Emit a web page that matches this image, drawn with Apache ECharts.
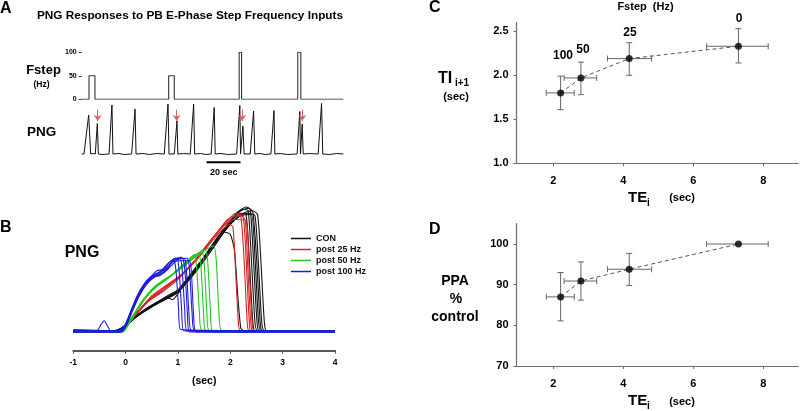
<!DOCTYPE html>
<html><head><meta charset="utf-8">
<script src="https://cdn.jsdelivr.net/npm/echarts@6/dist/echarts.min.js"></script>
<style>html,body{margin:0;padding:0;background:#fff}#c{width:800px;height:411px}</style>
</head><body><div id="c"></div>
<script>
// ---------- Panel A data ----------
const fstepTrace = [[0,0],[4.3,0],[4.3,50],[7.8,50],[7.8,0],[51.2,0],[51.2,50],[54.5,50],[54.5,0],
  [92.7,0],[92.7,100],[94.1,100],[94.1,0],[127.2,0],[127.2,100],[129.0,100],[129.0,0],[154,0]];
const fstepTicks = [0,50,100];
const pngTrace = [[0,0],[1.35,0],[4.1,0.78],[5.3,0],[6.5,0.01],[8.0,0],[9.2,0.61],[9.8,0],[12,-0.01],
  [16.1,0],[17.8,0.98],[18.4,0],[22,0.01],[25,-0.01],[29.4,0],[31.4,0.90],[32.0,0],[36,0.01],[40,-0.01],[44,0.01],
  [48.6,0],[50.8,1.0],[51.4,0],[54.5,0],[56.1,0.66],[56.6,0],[60,0.01],[63.9,0],[65.9,1.0],[66.5,0],[70,0.01],[73,-0.01],
  [76.2,0],[78.0,0.93],[78.6,0],[82,0.01],[86,-0.01],[91.2,0],[93.1,0.97],[93.5,0],[93.9,0],[94.9,0.56],[95.6,0],
  [99.2,0],[101.2,0.86],[101.9,0],[105,0.01],[108,-0.01],[111.4,0],[113.2,0.87],[113.7,0],[117,0.01],[121,-0.01],
  [126.8,0],[128.4,0.85],[128.8,0],[129.8,0.60],[130.4,0],[134,0.01],[139.2,0],[141.2,1.01],[141.9,0],[146,-0.01],[150,0.01],[154,0]];
const arrowX = [9.4, 55.9, 94.5, 129.8];
const arrowTop = 0.89, arrowTip = 0.66;
const scaleBar = [[73.5,-0.166],[93.5,-0.166]];
const scaleLabel = '20 sec';

// ---------- Panel B data ----------
const groupNames = ['CON','post 25 Hz','post 50 Hz','post 100 Hz'];
const conTraces = [
 [[-1,0],[-0.25,0],[-0.08,0.03],[0.15,0.11],[0.4,0.19],[0.7,0.26],[0.9,0.29],[1.15,0.41],[1.45,0.57],[1.75,0.75],[2.0,0.88],[2.2,0.95],[2.3,0.94],[2.36,0.6],[2.43,0.08],[2.48,0],[4,0]],
 [[-1,0.01],[-0.2,0.01],[-0.05,0.04],[0.2,0.13],[0.45,0.2],[0.75,0.27],[0.95,0.31],[1.2,0.44],[1.5,0.6],[1.8,0.78],[2.05,0.91],[2.25,0.98],[2.34,0.97],[2.4,0.6],[2.47,0.08],[2.52,0.01],[4,0.01]],
 [[-1,0],[-0.22,0],[-0.05,0.03],[0.2,0.12],[0.5,0.21],[0.8,0.28],[1.0,0.33],[1.3,0.48],[1.6,0.65],[1.9,0.83],[2.12,0.95],[2.3,1.0],[2.38,0.98],[2.44,0.6],[2.51,0.08],[2.56,0],[4,0]],
 [[-1,0.01],[-0.18,0.01],[0,0.05],[0.25,0.14],[0.55,0.22],[0.82,0.27],[0.9,0.26],[1.1,0.37],[1.4,0.54],[1.7,0.72],[2.0,0.87],[2.2,0.93],[2.4,0.94],[2.47,0.6],[2.54,0.08],[2.59,0.01],[4,0.01]],
 [[-1,0],[-0.2,0],[-0.04,0.04],[0.22,0.13],[0.5,0.21],[0.8,0.29],[1.05,0.35],[1.35,0.5],[1.65,0.68],[1.95,0.86],[2.15,0.96],[2.35,0.99],[2.43,0.96],[2.5,0.6],[2.57,0.08],[2.62,0],[4,0]],
 [[-1,0.01],[-0.24,0.01],[-0.08,0.03],[0.18,0.12],[0.48,0.2],[0.78,0.27],[1.0,0.32],[1.3,0.46],[1.6,0.63],[1.9,0.81],[2.15,0.92],[2.35,0.95],[2.47,0.93],[2.53,0.6],[2.6,0.08],[2.65,0.01],[4,0.01]],
 [[-1,0],[-0.2,0],[-0.05,0.04],[0.2,0.12],[0.5,0.2],[0.8,0.27],[1.05,0.34],[1.35,0.49],[1.65,0.66],[1.95,0.84],[2.2,0.94],[2.42,0.97],[2.52,0.94],[2.58,0.6],[2.65,0.08],[2.7,0],[4,0]],
 [[-1,0.01],[-0.18,0.01],[-0.02,0.04],[0.25,0.14],[0.55,0.22],[0.8,0.28],[0.95,0.3],[1.2,0.43],[1.5,0.6],[1.75,0.75],[1.88,0.8],[2.0,0.78],[2.08,0.65],[2.14,0.3],[2.2,0.03],[2.25,0.01],[4,0.01]]
];
const p25Traces = [
 [[-1,0],[-0.12,0],[0,0.04],[0.2,0.14],[0.45,0.25],[0.7,0.33],[1.0,0.43],[1.3,0.55],[1.6,0.7],[1.85,0.82],[1.98,0.86],[2.05,0.84],[2.1,0.5],[2.15,0.1],[2.2,0],[4,0]],
 [[-1,0.01],[-0.1,0.01],[0.02,0.05],[0.22,0.15],[0.5,0.28],[0.75,0.36],[1.05,0.45],[1.35,0.58],[1.65,0.74],[1.9,0.86],[2.1,0.93],[2.2,0.92],[2.26,0.6],[2.32,0.1],[2.36,0.01],[4,0.01]],
 [[-1,0],[-0.15,0],[-0.02,0.04],[0.18,0.13],[0.45,0.25],[0.7,0.32],[1.0,0.42],[1.3,0.56],[1.6,0.72],[1.9,0.87],[2.1,0.95],[2.24,0.93],[2.3,0.6],[2.36,0.1],[2.4,0],[4,0]],
 [[-1,0.01],[-0.08,0.01],[0.04,0.06],[0.25,0.17],[0.5,0.29],[0.8,0.38],[1.1,0.47],[1.4,0.6],[1.7,0.77],[1.95,0.9],[2.15,0.94],[2.28,0.9],[2.33,0.55],[2.39,0.08],[2.43,0.01],[4,0.01]],
 [[-1,0],[-0.1,0],[0.02,0.05],[0.2,0.15],[0.48,0.27],[0.72,0.34],[1.02,0.44],[1.32,0.57],[1.62,0.73],[1.88,0.85],[2.08,0.9],[2.3,0.89],[2.36,0.5],[2.42,0.06],[2.46,0],[4,0]]
];
const p50Traces = [
 [[-1,0.01],[-0.1,0.01],[0.02,0.05],[0.15,0.13],[0.3,0.23],[0.5,0.33],[0.7,0.4],[0.9,0.46],[1.1,0.53],[1.25,0.6],[1.32,0.62],[1.36,0.5],[1.41,0.15],[1.46,0.01],[4,0.01]],
 [[-1,0],[-0.08,0],[0.04,0.06],[0.18,0.15],[0.35,0.26],[0.55,0.36],[0.75,0.41],[0.95,0.48],[1.15,0.56],[1.3,0.61],[1.4,0.63],[1.44,0.52],[1.49,0.15],[1.54,0],[4,0]],
 [[-1,0.01],[-0.12,0.01],[0,0.05],[0.15,0.14],[0.32,0.25],[0.5,0.34],[0.7,0.41],[0.9,0.46],[1.1,0.52],[1.3,0.6],[1.45,0.65],[1.5,0.55],[1.55,0.18],[1.6,0.01],[4,0.01]],
 [[-1,0],[-0.05,0],[0.06,0.06],[0.2,0.16],[0.38,0.27],[0.58,0.37],[0.78,0.42],[1.0,0.5],[1.2,0.57],[1.4,0.63],[1.52,0.66],[1.57,0.55],[1.62,0.17],[1.67,0],[4,0]],
 [[-1,0.01],[-0.1,0.01],[0.02,0.05],[0.18,0.15],[0.36,0.26],[0.56,0.35],[0.8,0.43],[1.05,0.51],[1.3,0.59],[1.5,0.65],[1.68,0.69],[1.73,0.58],[1.78,0.18],[1.84,0.01],[4,0.01]]
];
const p100Traces = [
 [[-1,0.01],[-0.12,0.01],[0,0.06],[0.1,0.16],[0.2,0.26],[0.32,0.35],[0.45,0.42],[0.6,0.47],[0.72,0.5],[0.85,0.56],[0.92,0.57],[0.96,0.5],[1.01,0.2],[1.05,0.02],[4,0.01]],
 [[-1,0],[-0.08,0],[0.03,0.07],[0.13,0.18],[0.24,0.28],[0.36,0.37],[0.5,0.44],[0.62,0.46],[0.75,0.52],[0.9,0.58],[0.98,0.59],[1.02,0.5],[1.07,0.18],[1.11,0.01],[4,0]],
 [[-1,0.02],[-0.15,0.01],[-0.02,0.05],[0.1,0.17],[0.22,0.29],[0.35,0.38],[0.5,0.45],[0.6,0.49],[0.7,0.5],[0.82,0.55],[0.95,0.59],[1.04,0.59],[1.08,0.5],[1.13,0.17],[1.17,0.01],[4,0.01]],
 [[-1,0],[-0.1,0],[0.02,0.06],[0.12,0.16],[0.25,0.28],[0.4,0.38],[0.55,0.44],[0.65,0.45],[0.78,0.5],[0.92,0.57],[1.05,0.6],[1.1,0.58],[1.14,0.45],[1.18,0.15],[1.22,0],[4,0]],
 [[-1,0.01],[-0.12,0.01],[0,0.06],[0.12,0.18],[0.26,0.31],[0.4,0.41],[0.55,0.46],[0.68,0.48],[0.8,0.52],[0.95,0.58],[1.12,0.59],[1.16,0.5],[1.21,0.15],[1.26,0.01],[4,0.01]],
 [[-1,0.01],[-0.55,0.01],[-0.47,0.06],[-0.41,0.09],[-0.35,0.05],[-0.28,0.01],[-0.08,0.01],[0.03,0.07],[0.15,0.19],[0.3,0.33],[0.45,0.41],[0.6,0.45],[0.72,0.47],[0.85,0.52],[1.0,0.58],[1.18,0.59],[1.22,0.5],[1.27,0.15],[1.32,0.01],[4,0.01]],
 [[-1,0],[-0.1,0],[0.02,0.07],[0.14,0.2],[0.28,0.33],[0.42,0.41],[0.55,0.45],[0.65,0.46],[0.78,0.51],[0.9,0.56],[1.0,0.57],[1.22,0.57],[1.26,0.45],[1.3,0.12],[1.35,0],[4,0]]
];
const bTicks = [-1,0,1,2,3,4];

// ---------- Panels C & D data ----------
const fLabels = ['100','50','25','0'];
const teMean = [2.21, 2.79, 4.17, 7.29];
const teLo   = [1.80, 2.31, 3.55, 6.38];
const teHi   = [2.60, 3.24, 4.81, 8.14];
const tiMean = [1.80, 1.97, 2.19, 2.33];
const tiLo   = [1.61, 1.78, 2.00, 2.14];
const tiHi   = [1.99, 2.15, 2.37, 2.53];
const ppaMean = [87.0, 90.9, 93.8, 100];
const ppaLo   = [81.1, 86.2, 89.8, 100];
const ppaHi   = [93.0, 95.6, 97.7, 100];
const teTicks = [2,4,6,8];
const tiTicks = [1.0,1.5,2.0,2.5];
const ppaTicks = [70,80,90,100];

// ---------- build ----------
const FONT = 'Liberation Sans, Arial, sans-serif';
const chart = echarts.init(document.getElementById('c'), null, {renderer:'canvas'});

function txt(x, y, text, size, align, color) {
  return {type:'text', x:x, y:y, silent:true,
    style:{text:text, font:'bold '+size+'px '+FONT, fill:color||'#000',
      textAlign:align||'left', textVerticalAlign:'middle', align:align||'left', verticalAlign:'middle'}};
}

function errRender(params, api) {
  const x=api.value(0), y=api.value(1), xl=api.value(2), xh=api.value(3), yl=api.value(4), yh=api.value(5);
  const a=api.coord([xl,y]), b=api.coord([xh,y]), c=api.coord([x,yl]), d=api.coord([x,yh]);
  const k=3, st={stroke:'#666', lineWidth:1, fill:null};
  const L=(x1,y1,x2,y2)=>({type:'line', shape:{x1:x1,y1:y1,x2:x2,y2:y2}, style:st});
  const ch=[L(a[0],a[1],b[0],b[1]), L(a[0],a[1]-k,a[0],a[1]+k), L(b[0],b[1]-k,b[0],b[1]+k)];
  if (yh > yl) ch.push(L(c[0],c[1],d[0],d[1]), L(c[0]-k,c[1],c[0]+k,c[1]), L(d[0]-k,d[1],d[0]+k,d[1]));
  return {type:'group', children:ch};
}

const lblOffsets = [[2.5,-37],[2.3,-27.6],[0.7,-26],[0.7,-27.7]];
function labelRender(params, api) {
  const i = params.dataIndex;
  const p = api.coord([api.value(0), api.value(1)]);
  return {type:'text', x:Math.round(p[0]+lblOffsets[i][0]), y:Math.round(p[1]+lblOffsets[i][1]),
    style:{text:fLabels[i], font:'bold 12px '+FONT, fill:'#000', align:'center', verticalAlign:'middle',
      textAlign:'center', textVerticalAlign:'middle'}};
}

const bGroups = [
  {name:groupNames[0], color:'#111111', traces:conTraces},
  {name:groupNames[1], color:'#d42424', traces:p25Traces},
  {name:groupNames[2], color:'#1ecb1e', traces:p50Traces},
  {name:groupNames[3], color:'#1c1cd8', traces:p100Traces}
];
const bSeries = [];
bGroups.forEach((g, gi) => g.traces.forEach(tr => bSeries.push({
  type:'line', name:g.name, xAxisIndex:2, yAxisIndex:2, data:tr, symbol:'none', smooth:0.2,
  lineStyle:{color:g.color, width:1.1}, itemStyle:{color:g.color}, z:2+gi, silent:true
})));

function errData(ys, ylo, yhi){ return teMean.map((x,i)=>[x, ys[i], teLo[i], teHi[i], ylo[i], yhi[i]]); }

const axisCD = (gi, min, max, ticks, extra) => Object.assign({
  gridIndex:gi, type:'value', min:min, max:max,
  axisLine:{show:true, onZero:false, lineStyle:{color:'#6e6e6e', width:1.2}},
  axisTick:{show:true, length:3, customValues:ticks, lineStyle:{color:'#6e6e6e'}},
  axisLabel:{customValues:ticks, color:'#000', fontWeight:'bold', fontSize:11, fontFamily:FONT},
  splitLine:{show:false}
}, extra||{});

const option = {
  animation:false, backgroundColor:'#fff',
  textStyle:{fontFamily:FONT},
  grid:[
    {left:81.7, top:52.3, width:261.6, height:47, outerBoundsMode:'none'},
    {left:81.7, top:99, width:261.6, height:70, outerBoundsMode:'none'},
    {left:73.3, top:200.7, width:261.7, height:150, outerBoundsMode:'none'},
    {left:516.5, top:22.5, width:281.8, height:140.8, outerBoundsMode:'none'},
    {left:516.5, top:223.7, width:281.8, height:142.3, outerBoundsMode:'none'}
  ],
  xAxis:[
    {gridIndex:0, type:'value', min:0, max:154, show:false},
    {gridIndex:1, type:'value', min:0, max:154, show:false},
    {gridIndex:2, type:'value', min:-1, max:4, interval:1,
      axisLine:{show:true, onZero:false, lineStyle:{color:'#555', width:2}},
      axisTick:{show:true, length:3, customValues:bTicks, lineStyle:{color:'#555'}},
      axisLabel:{customValues:bTicks, color:'#000', fontWeight:'bold', fontSize:8.5, margin:7, fontFamily:FONT},
      splitLine:{show:false},
      name:'(sec)', nameLocation:'middle', nameGap:25,
      nameTextStyle:{color:'#000', fontWeight:'bold', fontSize:10.5, fontFamily:FONT}},
    axisCD(3, 0.95, 9, teTicks, {axisLabel:{customValues:teTicks, color:'#000', fontWeight:'bold', fontSize:11, margin:12, fontFamily:FONT}}),
    axisCD(4, 0.95, 9, teTicks, {axisLabel:{customValues:teTicks, color:'#000', fontWeight:'bold', fontSize:11, margin:12, fontFamily:FONT}})
  ],
  yAxis:[
    {gridIndex:0, type:'value', min:0, max:100, interval:50,
      axisLine:{show:false}, axisTick:{show:true, length:3, customValues:fstepTicks, lineStyle:{color:'#333'}},
      axisLabel:{customValues:fstepTicks, color:'#000', fontWeight:'bold', fontSize:7, margin:5, fontFamily:FONT},
      splitLine:{show:false}},
    {gridIndex:1, type:'value', min:-0.3, max:1.1, show:false},
    {gridIndex:2, type:'value', min:-0.15, max:1.05, show:false},
    axisCD(3, 1.0, 2.6, tiTicks, {axisLabel:{customValues:tiTicks, color:'#000', fontWeight:'bold', fontSize:11, margin:8, fontFamily:FONT, formatter:v=>Number(v).toFixed(1)}}),
    axisCD(4, 70, 105, ppaTicks, {axisLabel:{customValues:ppaTicks, color:'#000', fontWeight:'bold', fontSize:11, margin:8, fontFamily:FONT}})
  ],
  legend:{
    data:groupNames, orient:'vertical', left:291, top:234, padding:0,
    icon:'rect', itemWidth:20, itemHeight:1.5, itemGap:2, selectedMode:false,
    textStyle:{color:'#111', fontWeight:'bold', fontSize:9, fontFamily:FONT, lineHeight:9}
  },
  series:[
    {type:'line', xAxisIndex:0, yAxisIndex:0, data:fstepTrace, symbol:'none', lineStyle:{color:'#333', width:1.1}, silent:true},
    {type:'line', xAxisIndex:1, yAxisIndex:1, data:pngTrace, symbol:'none', lineStyle:{color:'#111', width:1}, silent:true,
      markLine:{silent:true, symbol:['none','arrow'], symbolSize:6, label:{show:false},
        lineStyle:{color:'#e06262', width:1, type:'solid'},
        data:arrowX.map(x=>[{coord:[x, arrowTop]},{coord:[x, arrowTip]}])}},
    {type:'line', xAxisIndex:1, yAxisIndex:1, data:scaleBar, symbol:'none', lineStyle:{color:'#000', width:2}, silent:true},
    ...bSeries,
    // Panel C
    {type:'custom', xAxisIndex:3, yAxisIndex:3, renderItem:errRender, data:errData(tiMean, tiLo, tiHi), encode:{x:0, y:1}, z:2, silent:true},
    {type:'line', xAxisIndex:3, yAxisIndex:3, data:teMean.map((x,i)=>[x, tiMean[i]]), symbol:'none',
      lineStyle:{color:'#555', width:1, type:[4,3]}, z:3, silent:true},
    {type:'scatter', xAxisIndex:3, yAxisIndex:3, symbolSize:7, itemStyle:{color:'#000'}, z:4, silent:true,
      data:teMean.map((x,i)=>[x, tiMean[i]])},
    {type:'custom', xAxisIndex:3, yAxisIndex:3, renderItem:labelRender, data:teMean.map((x,i)=>[x, tiMean[i]]), encode:{x:0, y:1}, z:5, silent:true},
    // Panel D
    {type:'custom', xAxisIndex:4, yAxisIndex:4, renderItem:errRender, data:errData(ppaMean, ppaLo, ppaHi), encode:{x:0, y:1}, z:2, silent:true},
    {type:'line', xAxisIndex:4, yAxisIndex:4, data:teMean.map((x,i)=>[x, ppaMean[i]]), symbol:'none',
      lineStyle:{color:'#555', width:1, type:[4,3]}, z:3, silent:true},
    {type:'scatter', xAxisIndex:4, yAxisIndex:4, symbolSize:7, itemStyle:{color:'#000'}, z:4, silent:true,
      data:teMean.map((x,i)=>[x, ppaMean[i]])}
  ],
  graphic:[
    txt(0, 9, 'A', 16),
    txt(190, 16, 'PNG Responses to PB E-Phase Step Frequency Inputs', 11.8, 'center'),
    txt(43.5, 70, 'Fstep', 13, 'center'),
    txt(41.5, 85, '(Hz)', 8.5, 'center'),
    txt(41.7, 132, 'PNG', 13.5, 'center'),
    txt(223.7, 172.3, scaleLabel, 9, 'center'),
    txt(0, 228, 'B', 16),
    txt(82, 253, 'PNG', 16, 'center'),
    txt(429, 8, 'C', 16),
    txt(429, 230, 'D', 16),
    txt(645.5, 7, 'Fstep  (Hz)', 11, 'center'),
    txt(438, 79, 'TI', 16),
    txt(455, 83, 'i+1', 10),
    txt(456, 97, '(sec)', 11, 'center'),
    txt(628, 198, 'TE', 15),
    txt(647, 203, 'i', 10),
    txt(682, 198, '(sec)', 11, 'center'),
    txt(455, 281, 'PPA', 14, 'center'),
    txt(456, 299, '%', 14, 'center'),
    txt(455, 317, 'control', 14, 'center'),
    txt(628, 401, 'TE', 15),
    txt(647, 406, 'i', 10),
    txt(682, 402, '(sec)', 11, 'center')
  ]
};
chart.setOption(option);
</script></body></html>
